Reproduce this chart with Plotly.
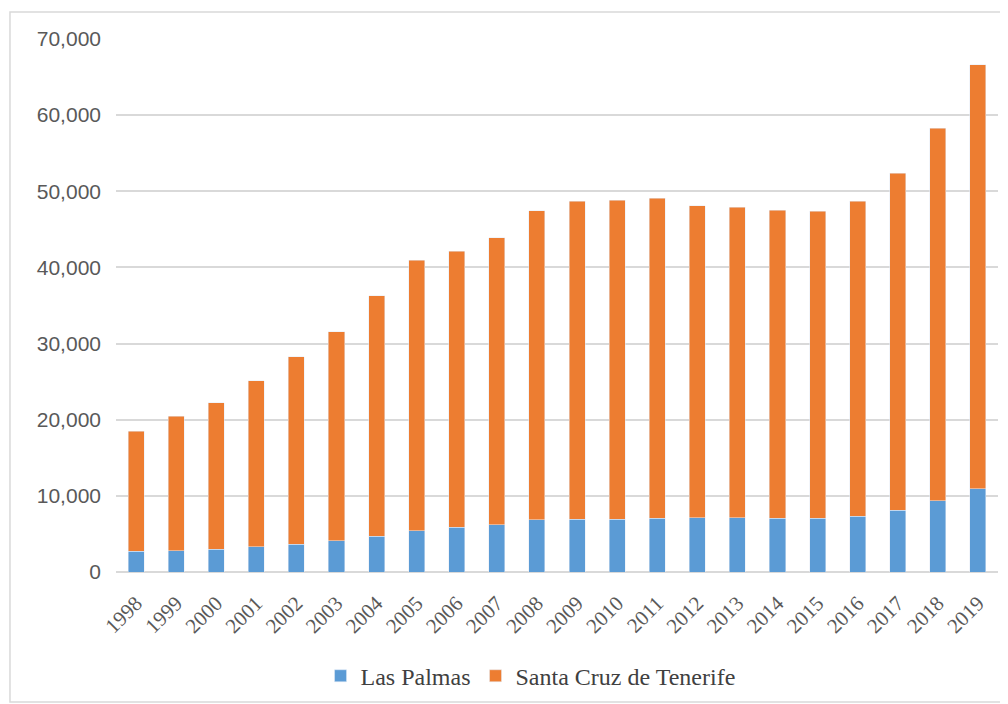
import plotly.graph_objects as go

years = [str(y) for y in range(1998, 2020)]
las_palmas = [2700, 2800, 3000, 3300, 3650, 4100, 4700, 5450, 5850, 6200, 6850,
              6950, 6950, 7050, 7100, 7100, 7050, 7050, 7350, 8100, 9350, 10950]
totals = [18470, 20430, 22230, 25150, 28300, 31530, 36300, 40970, 42100, 43900, 47430,
          48700, 48800, 49100, 48100, 47900, 47500, 47400, 48700, 52400, 58300, 66600]
santa_cruz = [t - l for t, l in zip(totals, las_palmas)]

y_ticks = [0, 10000, 20000, 30000, 40000, 50000, 60000, 70000]
y_labels = ["0", "10,000", "20,000", "30,000", "40,000", "50,000", "60,000", "70,000"]

fig = go.Figure()
fig.add_trace(go.Bar(x=years, y=las_palmas, name="Las Palmas", marker_color="#5B9BD5"))
fig.add_trace(go.Bar(x=years, y=santa_cruz, name="Santa Cruz de Tenerife", marker_color="#ED7D31"))

fig.update_layout(
    barmode="stack",
    bargap=0.6,
    width=1000, height=696,
    margin=dict(l=108, r=10, t=31, b=132),
    plot_bgcolor="white", paper_bgcolor="white",
    font=dict(family="Liberation Serif", color="#595959"),
    showlegend=True,
    legend=dict(orientation="h", x=0.47, xanchor="center",
                yref="container", y=0.04, yanchor="middle",
                font=dict(family="Liberation Serif", size=24, color="#404040"),
                bgcolor="rgba(0,0,0,0)", traceorder="normal", itemwidth=30),
    xaxis=dict(tickangle=-45, tickfont=dict(family="Liberation Serif", size=21, color="#595959"),
               showgrid=False, showline=False, ticks="", automargin=False,
               ticklabelstandoff=14),
    yaxis=dict(range=[0, 70000], tickvals=y_ticks, ticktext=y_labels,
               tickfont=dict(family="Liberation Sans", size=21, color="#595959"),
               showgrid=True, gridcolor="#d9d9d9", gridwidth=1.5, zeroline=True,
               zerolinecolor="#d9d9d9", zerolinewidth=1.5, ticks="", ticklabelstandoff=14,
               automargin=False),
    shapes=[dict(type="rect", xref="paper", yref="paper",
                 x0=-0.1202, x1=1.0068, y0=-0.2439, y1=1.0507,
                 line=dict(color="#d9d9d9", width=1.5), layer="below")],
)

fig.write_html("out.html")
